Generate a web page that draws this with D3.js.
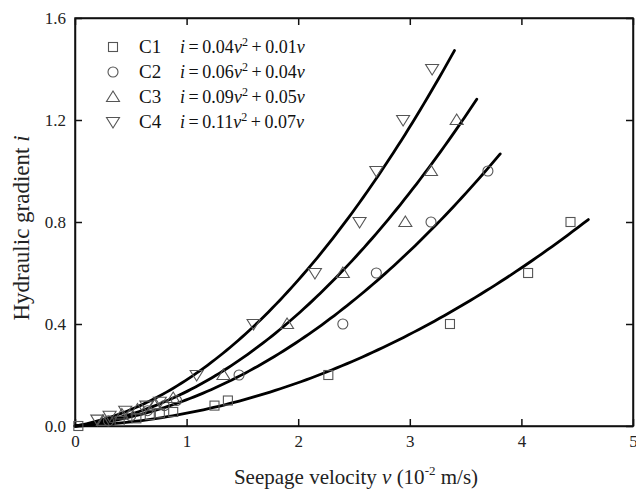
<!DOCTYPE html>
<html>
<head>
<meta charset="utf-8">
<script src="https://cdn.jsdelivr.net/npm/d3@7"></script>
<style>
  body { margin: 0; background: #fff; }
  svg { display: block; font-family: "Liberation Serif", "Times New Roman", serif; }
</style>
</head>
<body>
<div id="chart"></div>
<script>
// DATA
const seriesNames = ["C1", "C2", "C3", "C4"];
const legendA = ["0.04", "0.06", "0.09", "0.11"];
const legendB = ["0.01", "0.04", "0.05", "0.07"];
// fitted curves as drawn in the figure (a v^2 + b v), and where each curve stops
const fitA = [0.035, 0.063, 0.085, 0.105];
const fitB = [0.015, 0.040, 0.050, 0.076];
const fitEnd = [4.6, 3.81, 3.6, 3.4];

const c1V = [0.03, 0.40, 0.55, 0.67, 0.76, 0.88, 1.25, 1.37, 2.27, 3.36, 4.06, 4.44];
const c1I = [0.00, 0.02, 0.03, 0.043, 0.05, 0.055, 0.08, 0.10, 0.20, 0.40, 0.60, 0.80];
const c2V = [0.30, 0.50, 0.65, 0.80, 0.91, 1.47, 2.40, 2.70, 3.19, 3.70];
const c2I = [0.02, 0.04, 0.06, 0.08, 0.10, 0.20, 0.40, 0.60, 0.80, 1.00];
const c3V = [0.25, 0.42, 0.56, 0.72, 0.88, 1.33, 1.90, 2.40, 2.96, 3.19, 3.42];
const c3I = [0.02, 0.045, 0.065, 0.085, 0.11, 0.20, 0.40, 0.60, 0.80, 1.00, 1.20];
const c4V = [0.20, 0.31, 0.45, 0.64, 0.76, 1.09, 1.60, 2.15, 2.55, 2.70, 2.94, 3.20];
const c4I = [0.025, 0.04, 0.06, 0.08, 0.095, 0.20, 0.40, 0.60, 0.80, 1.00, 1.20, 1.40];

const xTicks = [0, 1, 2, 3, 4, 5];
const yTicks = [0.0, 0.4, 0.8, 1.2, 1.6];

const seriesV = [c1V, c2V, c3V, c4V];
const seriesI = [c1I, c2I, c3I, c4I];

// LAYOUT
const W = 636, H = 491;
const margin = { top: 18, right: 3, bottom: 65, left: 75 };

const svg = d3.select("#chart").append("svg")
  .attr("width", W)
  .attr("height", H);

const x = d3.scaleLinear().domain([0, 5]).range([margin.left, W - margin.right]);
const y = d3.scaleLinear().domain([0, 1.6]).range([H - margin.bottom, margin.top]);

// axes with inward ticks
const tickLen = 7;
svg.append("g")
  .attr("transform", `translate(0,${y(0)})`)
  .call(d3.axisBottom(x).tickValues(xTicks).tickFormat(d3.format("d")).tickSizeInner(-tickLen).tickSizeOuter(0).tickPadding(9))
  .call(g => g.selectAll("text").attr("font-size", 17).attr("font-family", "Liberation Serif").attr("fill", "#222"));
svg.append("g")
  .attr("transform", `translate(${x(0)},0)`)
  .call(d3.axisLeft(y).tickValues(yTicks).tickFormat(d3.format(".1f")).tickSizeInner(-tickLen).tickSizeOuter(0).tickPadding(9))
  .call(g => g.selectAll("text").attr("font-size", 17).attr("font-family", "Liberation Serif").attr("fill", "#222"));
svg.append("g")
  .attr("transform", `translate(0,${y(1.6)})`)
  .call(d3.axisTop(x).tickValues(xTicks).tickFormat("").tickSizeInner(-tickLen).tickSizeOuter(0));
svg.append("g")
  .attr("transform", `translate(${x(5)},0)`)
  .call(d3.axisRight(y).tickValues(yTicks).tickFormat("").tickSizeInner(-tickLen).tickSizeOuter(0));
svg.selectAll(".domain").attr("stroke", "#111").attr("stroke-width", 1.5);
svg.selectAll(".tick line").attr("stroke", "#111").attr("stroke-width", 1.5);

// frame
svg.append("rect")
  .attr("x", x(0)).attr("y", y(1.6))
  .attr("width", x(5) - x(0)).attr("height", y(0) - y(1.6))
  .attr("fill", "none").attr("stroke", "#111").attr("stroke-width", 1.5);

// fitted curves
const line = d3.line().x(d => x(d[0])).y(d => y(d[1]));
seriesNames.forEach((name, k) => {
  const pts = d3.range(0, 101).map(j => {
    const v = fitEnd[k] * j / 100;
    return [v, fitA[k] * v * v + fitB[k] * v];
  });
  svg.append("path")
    .datum(pts)
    .attr("d", line)
    .attr("fill", "none")
    .attr("stroke", "#000")
    .attr("stroke-width", 2.8)
    .attr("stroke-linecap", "round");
});

// markers
const markerColor = "#555";
function drawMarker(g, k, cx, cy) {
  if (k === 0) {
    g.append("rect").attr("x", cx - 4.5).attr("y", cy - 4.5).attr("width", 9).attr("height", 9);
  } else if (k === 1) {
    g.append("circle").attr("cx", cx).attr("cy", cy).attr("r", 5);
  } else if (k === 2) {
    g.append("path").attr("d", `M${cx},${cy - 6}L${cx + 6.5},${cy + 4.5}L${cx - 6.5},${cy + 4.5}Z`);
  } else {
    g.append("path").attr("d", `M${cx},${cy + 6}L${cx + 6.5},${cy - 4.5}L${cx - 6.5},${cy - 4.5}Z`);
  }
}
const markG = svg.append("g")
  .attr("fill", "none").attr("stroke", markerColor).attr("stroke-width", 1.1);
seriesNames.forEach((name, k) => {
  seriesV[k].forEach((v, j) => drawMarker(markG, k, x(v), y(seriesI[k][j])));
});

// legend
const legendG = svg.append("g");
const legY = [47, 72, 97, 122];
const thin = "\u2009";
seriesNames.forEach((name, k) => {
  const mg = legendG.append("g").attr("fill", "none").attr("stroke", markerColor).attr("stroke-width", 1.1);
  drawMarker(mg, k, 113, legY[k]);
  legendG.append("text")
    .attr("x", 139).attr("y", legY[k] + 6)
    .attr("font-size", 19).attr("fill", "#111")
    .text(name);
  const t = legendG.append("text")
    .attr("x", 180).attr("y", legY[k] + 6)
    .attr("font-size", 18).attr("fill", "#111");
  t.append("tspan").attr("font-style", "italic").text("i");
  t.append("tspan").text(`${thin}=${thin}${legendA[k]}`);
  t.append("tspan").attr("font-style", "italic").text("v");
  t.append("tspan").attr("font-size", 12).attr("dy", -7).text("2");
  t.append("tspan").attr("dy", 7).text(`${thin}+${thin}${legendB[k]}`);
  t.append("tspan").attr("font-style", "italic").text("v");
});

// axis titles
const xt = svg.append("text")
  .attr("x", 356).attr("y", 484)
  .attr("text-anchor", "middle")
  .attr("font-size", 21).attr("fill", "#222");
xt.append("tspan").text("Seepage velocity ");
xt.append("tspan").attr("font-style", "italic").text("v");
xt.append("tspan").text(" (10");
xt.append("tspan").attr("font-size", 13).attr("dy", -9).text("-2");
xt.append("tspan").attr("dy", 9).text(" m/s)");

const yt = svg.append("text")
  .attr("transform", `translate(29,228) rotate(-90)`)
  .attr("text-anchor", "middle")
  .attr("font-size", 23).attr("fill", "#222");
yt.append("tspan").text("Hydraulic gradient ");
yt.append("tspan").attr("font-style", "italic").text("i");
</script>
</body>
</html>
